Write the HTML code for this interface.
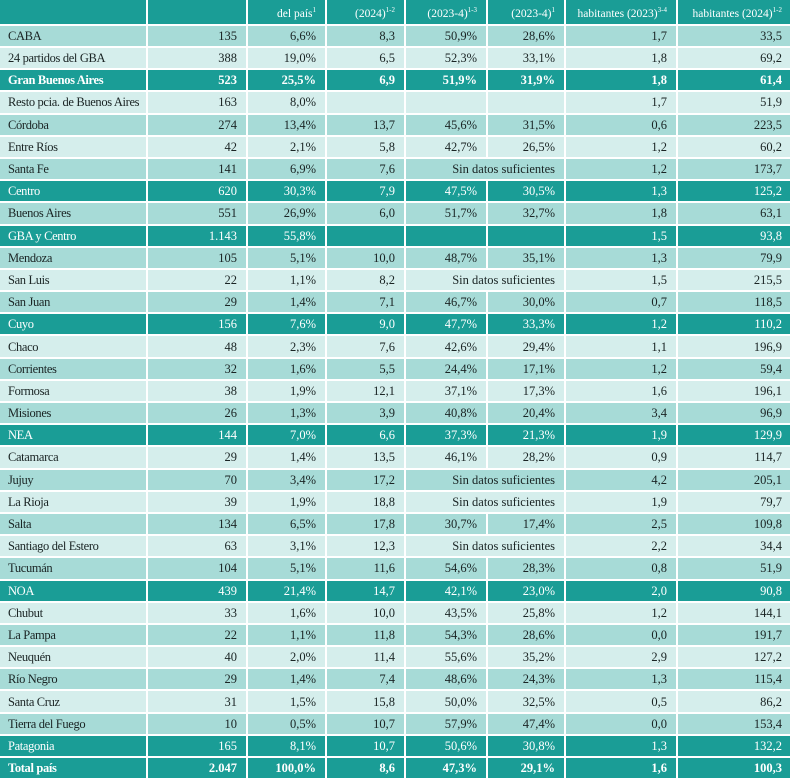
<!DOCTYPE html>
<html><head><meta charset="utf-8"><style>
html,body{margin:0;padding:0;background:#fff;}
body{width:790px;height:778px;overflow:hidden;font-family:"Liberation Serif","DejaVu Serif",serif;font-size:12.5px;color:#1a2424;}
table{border-collapse:collapse;table-layout:fixed;width:792px;}
td{border-right:2px solid #fff;border-bottom:2px solid #fff;padding:0 9px 0 8px;height:20.2px;line-height:20px;text-align:right;white-space:nowrap;overflow:hidden;box-sizing:content-box;}
td:first-child{text-align:left;padding-left:8px;padding-right:2px;letter-spacing:-0.35px;}
tr.h td{height:21px;background:#1a9d96;color:#fff;font-size:11.5px;}
tr.h sup{font-size:7px;}
tr.d td{background:#a7dbd7;}
tr.l td{background:#d5eeec;}
tr.t td{background:#1a9d96;color:#fff;}
tr.b td{font-weight:bold;}
td.c{text-align:right;padding-right:9px;}
</style></head><body>
<table>
<colgroup><col style="width:147px"><col style="width:100px"><col style="width:79px"><col style="width:79px"><col style="width:82px"><col style="width:78px"><col style="width:112px"><col style="width:115px"></colgroup>
<tr class="h"><td></td><td></td><td>del país<sup>1</sup></td><td>(2024)<sup>1-2</sup></td><td>(2023-4)<sup>1-3</sup></td><td>(2023-4)<sup>1</sup></td><td>habitantes (2023)<sup>3-4</sup></td><td>habitantes (2024)<sup>1-2</sup></td></tr>
<tr class="d"><td>CABA</td><td>135</td><td>6,6%</td><td>8,3</td><td>50,9%</td><td>28,6%</td><td>1,7</td><td>33,5</td></tr>
<tr class="l"><td>24 partidos del GBA</td><td>388</td><td>19,0%</td><td>6,5</td><td>52,3%</td><td>33,1%</td><td>1,8</td><td>69,2</td></tr>
<tr class="t b"><td>Gran Buenos Aires</td><td>523</td><td>25,5%</td><td>6,9</td><td>51,9%</td><td>31,9%</td><td>1,8</td><td>61,4</td></tr>
<tr class="l"><td>Resto pcia. de Buenos Aires</td><td>163</td><td>8,0%</td><td></td><td></td><td></td><td>1,7</td><td>51,9</td></tr>
<tr class="d"><td>Córdoba</td><td>274</td><td>13,4%</td><td>13,7</td><td>45,6%</td><td>31,5%</td><td>0,6</td><td>223,5</td></tr>
<tr class="l"><td>Entre Ríos</td><td>42</td><td>2,1%</td><td>5,8</td><td>42,7%</td><td>26,5%</td><td>1,2</td><td>60,2</td></tr>
<tr class="d"><td>Santa Fe</td><td>141</td><td>6,9%</td><td>7,6</td><td colspan="2" class="c">Sin datos suficientes</td><td>1,2</td><td>173,7</td></tr>
<tr class="t"><td>Centro</td><td>620</td><td>30,3%</td><td>7,9</td><td>47,5%</td><td>30,5%</td><td>1,3</td><td>125,2</td></tr>
<tr class="d"><td>Buenos Aires</td><td>551</td><td>26,9%</td><td>6,0</td><td>51,7%</td><td>32,7%</td><td>1,8</td><td>63,1</td></tr>
<tr class="t"><td>GBA y Centro</td><td>1.143</td><td>55,8%</td><td></td><td></td><td></td><td>1,5</td><td>93,8</td></tr>
<tr class="d"><td>Mendoza</td><td>105</td><td>5,1%</td><td>10,0</td><td>48,7%</td><td>35,1%</td><td>1,3</td><td>79,9</td></tr>
<tr class="l"><td>San Luis</td><td>22</td><td>1,1%</td><td>8,2</td><td colspan="2" class="c">Sin datos suficientes</td><td>1,5</td><td>215,5</td></tr>
<tr class="d"><td>San Juan</td><td>29</td><td>1,4%</td><td>7,1</td><td>46,7%</td><td>30,0%</td><td>0,7</td><td>118,5</td></tr>
<tr class="t"><td>Cuyo</td><td>156</td><td>7,6%</td><td>9,0</td><td>47,7%</td><td>33,3%</td><td>1,2</td><td>110,2</td></tr>
<tr class="l"><td>Chaco</td><td>48</td><td>2,3%</td><td>7,6</td><td>42,6%</td><td>29,4%</td><td>1,1</td><td>196,9</td></tr>
<tr class="d"><td>Corrientes</td><td>32</td><td>1,6%</td><td>5,5</td><td>24,4%</td><td>17,1%</td><td>1,2</td><td>59,4</td></tr>
<tr class="l"><td>Formosa</td><td>38</td><td>1,9%</td><td>12,1</td><td>37,1%</td><td>17,3%</td><td>1,6</td><td>196,1</td></tr>
<tr class="d"><td>Misiones</td><td>26</td><td>1,3%</td><td>3,9</td><td>40,8%</td><td>20,4%</td><td>3,4</td><td>96,9</td></tr>
<tr class="t"><td>NEA</td><td>144</td><td>7,0%</td><td>6,6</td><td>37,3%</td><td>21,3%</td><td>1,9</td><td>129,9</td></tr>
<tr class="l"><td>Catamarca</td><td>29</td><td>1,4%</td><td>13,5</td><td>46,1%</td><td>28,2%</td><td>0,9</td><td>114,7</td></tr>
<tr class="d"><td>Jujuy</td><td>70</td><td>3,4%</td><td>17,2</td><td colspan="2" class="c">Sin datos suficientes</td><td>4,2</td><td>205,1</td></tr>
<tr class="l"><td>La Rioja</td><td>39</td><td>1,9%</td><td>18,8</td><td colspan="2" class="c">Sin datos suficientes</td><td>1,9</td><td>79,7</td></tr>
<tr class="d"><td>Salta</td><td>134</td><td>6,5%</td><td>17,8</td><td>30,7%</td><td>17,4%</td><td>2,5</td><td>109,8</td></tr>
<tr class="l"><td>Santiago del Estero</td><td>63</td><td>3,1%</td><td>12,3</td><td colspan="2" class="c">Sin datos suficientes</td><td>2,2</td><td>34,4</td></tr>
<tr class="d"><td>Tucumán</td><td>104</td><td>5,1%</td><td>11,6</td><td>54,6%</td><td>28,3%</td><td>0,8</td><td>51,9</td></tr>
<tr class="t"><td>NOA</td><td>439</td><td>21,4%</td><td>14,7</td><td>42,1%</td><td>23,0%</td><td>2,0</td><td>90,8</td></tr>
<tr class="l"><td>Chubut</td><td>33</td><td>1,6%</td><td>10,0</td><td>43,5%</td><td>25,8%</td><td>1,2</td><td>144,1</td></tr>
<tr class="d"><td>La Pampa</td><td>22</td><td>1,1%</td><td>11,8</td><td>54,3%</td><td>28,6%</td><td>0,0</td><td>191,7</td></tr>
<tr class="l"><td>Neuquén</td><td>40</td><td>2,0%</td><td>11,4</td><td>55,6%</td><td>35,2%</td><td>2,9</td><td>127,2</td></tr>
<tr class="d"><td>Río Negro</td><td>29</td><td>1,4%</td><td>7,4</td><td>48,6%</td><td>24,3%</td><td>1,3</td><td>115,4</td></tr>
<tr class="l"><td>Santa Cruz</td><td>31</td><td>1,5%</td><td>15,8</td><td>50,0%</td><td>32,5%</td><td>0,5</td><td>86,2</td></tr>
<tr class="d"><td>Tierra del Fuego</td><td>10</td><td>0,5%</td><td>10,7</td><td>57,9%</td><td>47,4%</td><td>0,0</td><td>153,4</td></tr>
<tr class="t"><td>Patagonia</td><td>165</td><td>8,1%</td><td>10,7</td><td>50,6%</td><td>30,8%</td><td>1,3</td><td>132,2</td></tr>
<tr class="t b"><td>Total país</td><td>2.047</td><td>100,0%</td><td>8,6</td><td>47,3%</td><td>29,1%</td><td>1,6</td><td>100,3</td></tr>
</table>
</body></html>
